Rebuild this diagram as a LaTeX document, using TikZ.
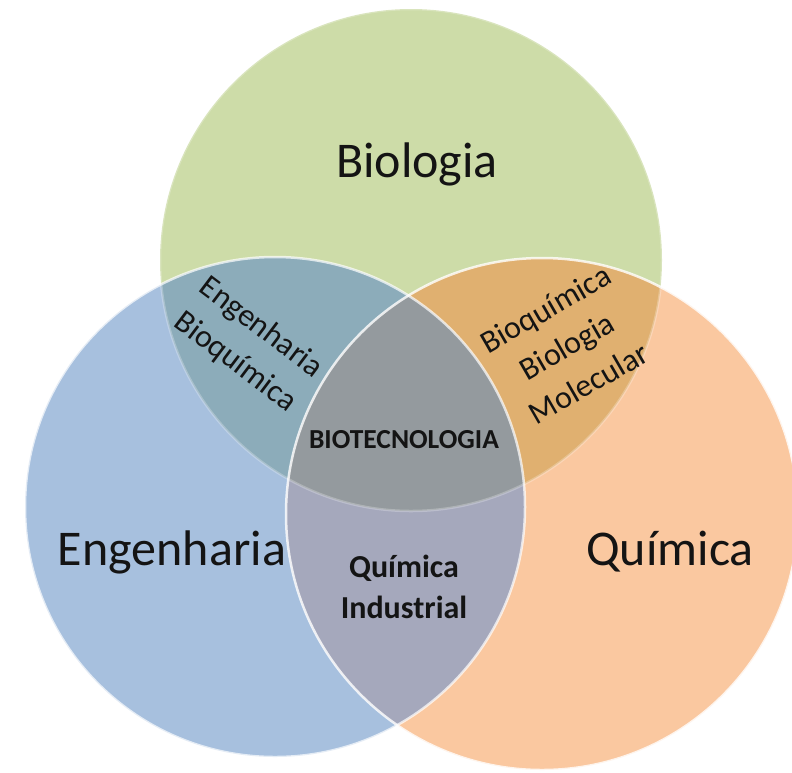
\documentclass[tikz,border=0pt]{standalone}
\usepackage{fontspec}
\setmainfont{Carlito}
\definecolor{cG}{RGB}{205,220,168}
\definecolor{cB}{RGB}{167,192,222}
\definecolor{cO}{RGB}{250,200,160}
\definecolor{cBG}{RGB}{140,172,186}
\definecolor{cGO}{RGB}{224,176,112}
\definecolor{cBO}{RGB}{165,168,188}
\definecolor{cC}{RGB}{148,154,158}
\definecolor{txt}{RGB}{20,20,20}
\begin{document}
\begin{tikzpicture}[x=1pt,y=-1pt,
  big/.style={font=\fontsize{50}{60}\selectfont, text=txt, inner sep=0pt, anchor=base},
  mid/.style={font=\fontsize{32}{43}\selectfont, text=txt, inner sep=0pt, align=center},
  boldlbl/.style={font=\bfseries\fontsize{32}{41}\selectfont, text=txt, inner sep=0pt, anchor=base},
  rim/.style={draw=white, line width=2.5pt}]
\useasboundingbox (0,0) rectangle (792,772);
\coordinate (G) at (411,260);
\coordinate (B) at (275,507);
\coordinate (O) at (542,514);
% base circles
\fill[cG] (G) circle[radius=251pt];
\fill[cB] (B) circle[radius=250pt];
\fill[cO] (O) circle[radius=256pt];
% pairwise overlaps
\begin{scope}
  \clip (G) circle[radius=251pt];
  \fill[cBG] (B) circle[radius=250pt];
  \fill[cGO] (O) circle[radius=256pt];
\end{scope}
\begin{scope}
  \clip (B) circle[radius=250pt];
  \fill[cBO] (O) circle[radius=256pt];
\end{scope}
% centre
\begin{scope}
  \clip (G) circle[radius=251pt];
  \clip (B) circle[radius=250pt];
  \fill[cC] (O) circle[radius=256pt];
\end{scope}
% rims
\draw[rim, draw opacity=0.25] (G) circle[radius=251pt];
\draw[rim, draw opacity=0.7] (B) circle[radius=250pt];
\draw[rim, draw opacity=0.8] (O) circle[radius=256pt];
% labels
\node[big] (bio) at (417,177) {Biologia};
\node[big] (eng) at (172,565) {Engenharia};
\node[big] (qui) at (670,565) {Química};
\node[mid, rotate=-37] (engbio) at (248,345) {Engenharia\\Bioquímica};
\node[mid, rotate=30] (bioq) at (567,346) {Bioquímica\\Biologia\\Molecular};
\node[font=\bfseries\fontsize{27.5}{33}\selectfont, text=txt, inner sep=0pt, anchor=base] (biotec) at (404,448) {BIOTECNOLOGIA};
\node[boldlbl] (qi1) at (404,577) {Química};
\node[boldlbl] (qi2) at (404,618) {Industrial};
\end{tikzpicture}
\end{document}
